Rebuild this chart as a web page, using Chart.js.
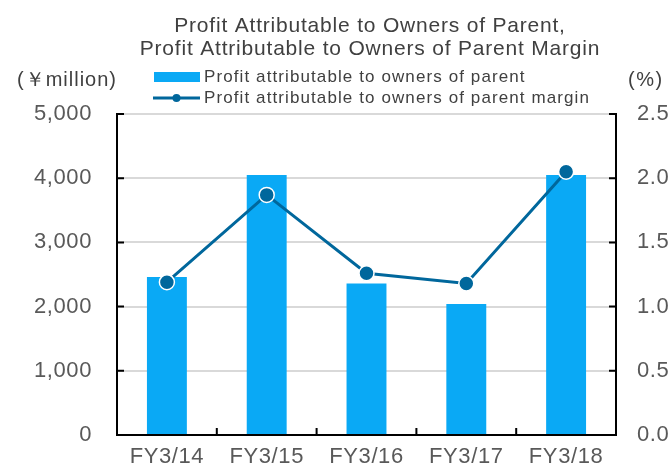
<!DOCTYPE html>
<html>
<head>
  <title>Profit Attributable to Owners of Parent</title>
  <script src="https://cdn.jsdelivr.net/npm/chart.js"></script>
  <style>
    body { margin: 0; background: #fff; }
    #wrap { width: 672px; height: 465px; }
    canvas { display: block; }
  </style>
</head>
<body>
  <div id="wrap"><canvas id="chart" width="672" height="465"></canvas></div>

  <script>
    // data
    const categories = ['FY3/14', 'FY3/15', 'FY3/16', 'FY3/17', 'FY3/18'];
    const profit = [2460, 4050, 2360, 2040, 4050];     // ¥ million
    const margin = [1.19, 1.87, 1.26, 1.18, 2.05];     // %
    const titleLines = ['Profit Attributable to Owners of Parent,', 'Profit Attributable to Owners of Parent Margin'];
    const legendLabels = ['Profit attributable to owners of parent', 'Profit attributable to owners of parent margin'];
    const leftUnit = '(\uFFE5million)';
    const rightUnit = '(%)';

    const barColor = '#0AA9F5';
    const lineColor = '#00679C';
    const font = '"Liberation Sans", Arial, sans-serif';

    // the reference text is a little wider than plain Arial
    const spacing = {
      id: 'spacing',
      beforeDraw(chart) { chart.ctx.letterSpacing = '0.6px'; }
    };

    // title, legend, unit labels and inward tick marks
    const decor = {
      id: 'decor',
      afterDraw(chart) {
        const c = chart.ctx;
        const a = chart.chartArea;
        const y = chart.scales.y;
        const y1 = chart.scales.y1;
        const x = chart.scales.x;
        c.save();

        // title
        c.fillStyle = '#404040';
        c.font = '21px ' + font;
        c.letterSpacing = '0.8px';
        c.textAlign = 'center';
        c.textBaseline = 'alphabetic';
        c.fillText(titleLines[0], 370, 32);
        c.fillText(titleLines[1], 370, 55);

        // units
        c.font = '20px ' + font;
        c.letterSpacing = '1px';
        c.textAlign = 'left';
        c.textBaseline = 'middle';
        c.fillText(leftUnit, 17, 80);
        c.letterSpacing = '1.5px';
        c.fillText(rightUnit, 628, 80);

        // legend
        c.fillStyle = barColor;
        c.fillRect(154, 72, 46, 10);
        c.strokeStyle = lineColor;
        c.lineWidth = 3;
        c.beginPath();
        c.moveTo(153, 98);
        c.lineTo(200, 98);
        c.stroke();
        c.fillStyle = lineColor;
        c.beginPath();
        c.arc(176.5, 98, 4, 0, Math.PI * 2);
        c.fill();
        c.fillStyle = '#404040';
        c.font = '17px ' + font;
        c.letterSpacing = '1.1px';
        c.fillText(legendLabels[0], 204, 77);
        c.fillText(legendLabels[1], 204, 98);

        // inward tick marks
        c.strokeStyle = '#000';
        c.lineWidth = 2;
        c.beginPath();
        y.ticks.forEach(t => {
          const py = y.getPixelForValue(t.value);
          c.moveTo(a.left, py);
          c.lineTo(a.left + 7, py);
        });
        y1.ticks.forEach(t => {
          const py = y1.getPixelForValue(t.value);
          c.moveTo(a.right, py);
          c.lineTo(a.right - 7, py);
        });
        for (let i = 0; i < categories.length - 1; i++) {
          const px = (x.getPixelForTick(i) + x.getPixelForTick(i + 1)) / 2;
          c.moveTo(px, a.bottom);
          c.lineTo(px, a.bottom - 7);
        }
        c.stroke();
        c.restore();
      }
    };

    // fixed axis sizes so the plot box lands where the reference has it
    function fixY(width) {
      return s => {
        s.width = width;
        s.paddingTop = 0;
        s.paddingBottom = 0;
      };
    }

    const ctx = document.getElementById('chart').getContext('2d');
    new Chart(ctx, {
      data: {
        labels: categories,
        datasets: [
          {
            type: 'line',
            label: legendLabels[1],
            data: margin,
            yAxisID: 'y1',
            borderColor: lineColor,
            borderWidth: 3,
            pointRadius: 7.5,
            pointBackgroundColor: lineColor,
            pointBorderColor: '#fff',
            pointBorderWidth: 1.5,
            order: 0
          },
          {
            type: 'bar',
            label: legendLabels[0],
            data: profit,
            yAxisID: 'y',
            backgroundColor: barColor,
            barPercentage: 0.4,
            categoryPercentage: 1,
            order: 1
          }
        ]
      },
      options: {
        responsive: false,
        animation: false,
        layout: { padding: { top: 114, left: 0, right: 0, bottom: 0 } },
        plugins: {
          legend: { display: false },
          title: { display: false },
          tooltip: { enabled: false }
        },
        scales: {
          x: {
            grid: { display: false, drawTicks: false },
            border: { display: true, color: '#000', width: 2 },
            ticks: { color: '#595959', font: { family: font, size: 22 }, padding: 9, maxRotation: 0 },
            afterFit(s) { s.height = 30; }
          },
          y: {
            position: 'left',
            min: 0,
            max: 5000,
            grid: { color: '#d9d9d9', lineWidth: 2, drawTicks: false },
            border: { display: true, color: '#000', width: 2 },
            ticks: { stepSize: 1000, color: '#595959', font: { family: font, size: 22 }, padding: 25 },
            afterFit: fixY(117)
          },
          y1: {
            position: 'right',
            min: 0,
            max: 2.5,
            grid: { display: false, drawTicks: false },
            border: { display: true, color: '#000', width: 2 },
            ticks: {
              stepSize: 0.5,
              color: '#595959',
              font: { family: font, size: 22 },
              padding: 21,
              callback: v => v.toFixed(1)
            },
            afterFit: fixY(56)
          }
        }
      },
      plugins: [spacing, decor]
    });
  </script>
</body>
</html>
